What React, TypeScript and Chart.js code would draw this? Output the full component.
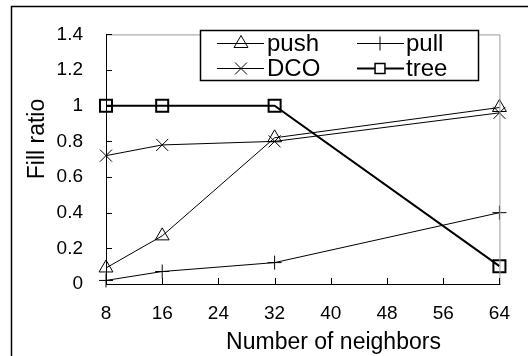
import React, { useEffect, useRef } from 'react';
import { Chart, registerables } from 'chart.js';

Chart.register(...registerables);

// ---- data ----
const neighbors = [8, 16, 32, 64];
const pushValues = [0.09, 0.27, 0.82, 0.99];
const pullValues = [0.02, 0.07, 0.12, 0.4];
const dcoValues = [0.72, 0.78, 0.8, 0.96];
const treeValues = [1, 1, 1, 0.1];
const seriesNames = ['push', 'pull', 'DCO', 'tree'];
const xTickValues = [8, 16, 24, 32, 40, 48, 56, 64];
const yTickValues = [0, 0.2, 0.4, 0.6, 0.8, 1, 1.2, 1.4];
const xTitle = 'Number of neighbors';
const yTitle = 'Fill ratio';

const FONT = '"Liberation Sans", Arial, Helvetica, sans-serif';

const toPoints = (vals: number[]) => neighbors.map((x, i) => ({ x, y: vals[i] }));

type MarkerKind = 'triangle' | 'cross' | 'crossRot' | 'rect';
const markerKinds: MarkerKind[] = ['triangle', 'cross', 'crossRot', 'rect'];
const markerRadius = [8, 7, 8.5, 8.5];
const lineWidths = [1, 1, 1, 2];

function drawMarker(ctx: CanvasRenderingContext2D, kind: MarkerKind, x: number, y: number, r: number) {
  ctx.beginPath();
  if (kind === 'triangle') {
    const w = r * Math.cos(Math.PI / 6);
    ctx.moveTo(x, y - r);
    ctx.lineTo(x + w, y + r / 2);
    ctx.lineTo(x - w, y + r / 2);
    ctx.closePath();
  } else if (kind === 'cross') {
    ctx.moveTo(x, y - r); ctx.lineTo(x, y + r);
    ctx.moveTo(x - r, y); ctx.lineTo(x + r, y);
  } else if (kind === 'crossRot') {
    const d = r * Math.SQRT1_2;
    ctx.moveTo(x - d, y - d); ctx.lineTo(x + d, y + d);
    ctx.moveTo(x - d, y + d); ctx.lineTo(x + d, y - d);
  } else {
    const s = r * Math.SQRT1_2;
    ctx.rect(x - s, y - s, 2 * s, 2 * s);
  }
  ctx.stroke();
}

const decorPlugin = {
  id: 'decor',
  afterDraw(chart: any) {
    const { ctx, chartArea: a, scales } = chart;
    const xs = scales.x;
    const ys = scales.y;
    ctx.save();
    // outer frame (left + top)
    ctx.strokeStyle = '#000';
    ctx.lineWidth = 1.5;
    ctx.beginPath();
    ctx.moveTo(11.5, 356);
    ctx.lineTo(11.5, 6.5);
    ctx.lineTo(528, 6.5);
    ctx.stroke();

    // plot frame top/right (grey)
    ctx.strokeStyle = '#9a9a9a';
    ctx.lineWidth = 1;
    ctx.beginPath();
    ctx.moveTo(a.left, a.top + 0.5);
    ctx.lineTo(a.right + 0.5, a.top + 0.5);
    ctx.lineTo(a.right + 0.5, a.bottom);
    ctx.stroke();

    // axes (black)
    ctx.strokeStyle = '#000';
    ctx.beginPath();
    ctx.moveTo(a.left + 0.5, a.top);
    ctx.lineTo(a.left + 0.5, a.bottom + 0.5);
    ctx.lineTo(a.right + 1, a.bottom + 0.5);
    ctx.stroke();

    // inward ticks
    ctx.beginPath();
    for (const v of yTickValues) {
      const py = Math.round(ys.getPixelForValue(v)) + 0.5;
      ctx.moveTo(a.left, py);
      ctx.lineTo(a.left + 6, py);
    }
    for (const v of xTickValues) {
      const px = Math.round(xs.getPixelForValue(v)) + 0.5;
      ctx.moveTo(px, a.bottom);
      ctx.lineTo(px, a.bottom - 6);
    }
    ctx.stroke();

    // axis titles
    ctx.fillStyle = '#000';
    ctx.font = `23px ${FONT}`;
    ctx.textAlign = 'center';
    ctx.textBaseline = 'alphabetic';
    ctx.fillText(xTitle, 333.5, 349);
    ctx.save();
    ctx.translate(44, 139);
    ctx.rotate(-Math.PI / 2);
    ctx.fillText(yTitle, 0, 0);
    ctx.restore();

    // legend
    const bx = 200.5, by = 30.5, bw = 278, bh = 50;
    ctx.fillStyle = '#fff';
    ctx.fillRect(bx, by, bw, bh);
    ctx.strokeStyle = '#000';
    ctx.lineWidth = 1.5;
    ctx.strokeRect(bx, by, bw, bh);
    const rows = [43, 68];
    const baselines = [51, 76];
    const cols = [
      { l0: 217, l1: 264, m: 241, t: 267 },
      { l0: 357, l1: 404, m: 380, t: 406 },
    ];
    ctx.font = `24px ${FONT}`;
    ctx.textAlign = 'left';
    ctx.textBaseline = 'alphabetic';
    for (let i = 0; i < 4; i++) {
      const row = Math.floor(i / 2);
      const col = i % 2;
      const y = rows[row] + 0.5;
      const c = cols[col];
      ctx.strokeStyle = '#000';
      ctx.lineWidth = lineWidths[i];
      ctx.beginPath();
      ctx.moveTo(c.l0, y);
      ctx.lineTo(c.l1, y);
      ctx.stroke();
      const r = markerKinds[i] === 'rect' ? 7 : markerRadius[i];
      if (markerKinds[i] === 'rect') {
        ctx.fillStyle = '#fff';
        const s = r * Math.SQRT1_2;
        ctx.fillRect(c.m - s, y - s, 2 * s, 2 * s);
        ctx.lineWidth = 1.5;
      }
      drawMarker(ctx, markerKinds[i], c.m, y, r);
      ctx.fillStyle = '#000';
      ctx.fillText(seriesNames[i], c.t, baselines[row]);
    }
    ctx.restore();
  },
};

export default function App() {
  const canvasRef = useRef<HTMLCanvasElement | null>(null);

  useEffect(() => {
    document.body.style.margin = '0';
    const canvas = canvasRef.current;
    if (!canvas) return;
    const valueSets = [pushValues, pullValues, dcoValues, treeValues];
    const chart = new Chart(canvas, {
      type: 'line',
      data: {
        datasets: seriesNames.map((name, i) => ({
          label: name,
          data: toPoints(valueSets[i]),
          borderColor: '#000',
          backgroundColor: 'transparent',
          borderWidth: lineWidths[i],
          pointStyle: markerKinds[i],
          pointRadius: markerRadius[i],
          pointHoverRadius: markerRadius[i],
          pointBorderColor: '#000',
          pointBackgroundColor: 'transparent',
          pointBorderWidth: i === 3 ? 2 : 1,
          tension: 0,
          fill: false,
          clip: false as any,
        })),
      },
      options: {
        animation: false,
        responsive: false,
        devicePixelRatio: 1,
        layout: { padding: { top: 23, right: 19, left: 0, bottom: 0 } },
        plugins: {
          legend: { display: false },
          tooltip: { enabled: false },
        },
        scales: {
          x: {
            type: 'linear',
            min: 8,
            max: 64,
            afterBuildTicks: (s: any) => { s.ticks = xTickValues.map((v) => ({ value: v })); },
            afterFit: (s: any) => { s.height = 72; },
            grid: { display: false, drawTicks: false },
            border: { display: false },
            ticks: {
              color: '#000',
              font: { family: FONT, size: 19 },
              padding: 18,
              maxRotation: 0,
              callback: (v: any) => String(v),
            },
          },
          y: {
            type: 'linear',
            min: 0,
            max: 1.4,
            afterBuildTicks: (s: any) => { s.ticks = yTickValues.map((v) => ({ value: v })); },
            afterFit: (s: any) => { s.width = 106; },
            grid: { display: false, drawTicks: false },
            border: { display: false },
            ticks: {
              color: '#000',
              font: { family: FONT, size: 19 },
              padding: 23,
              callback: (v: any) => String(parseFloat(Number(v).toFixed(1))),
            },
          },
        },
      },
      plugins: [decorPlugin],
    });
    return () => chart.destroy();
  }, []);

  return (
    <canvas
      ref={canvasRef}
      width={528}
      height={356}
      style={{ display: 'block', width: 528, height: 356 }}
    />
  );
}
